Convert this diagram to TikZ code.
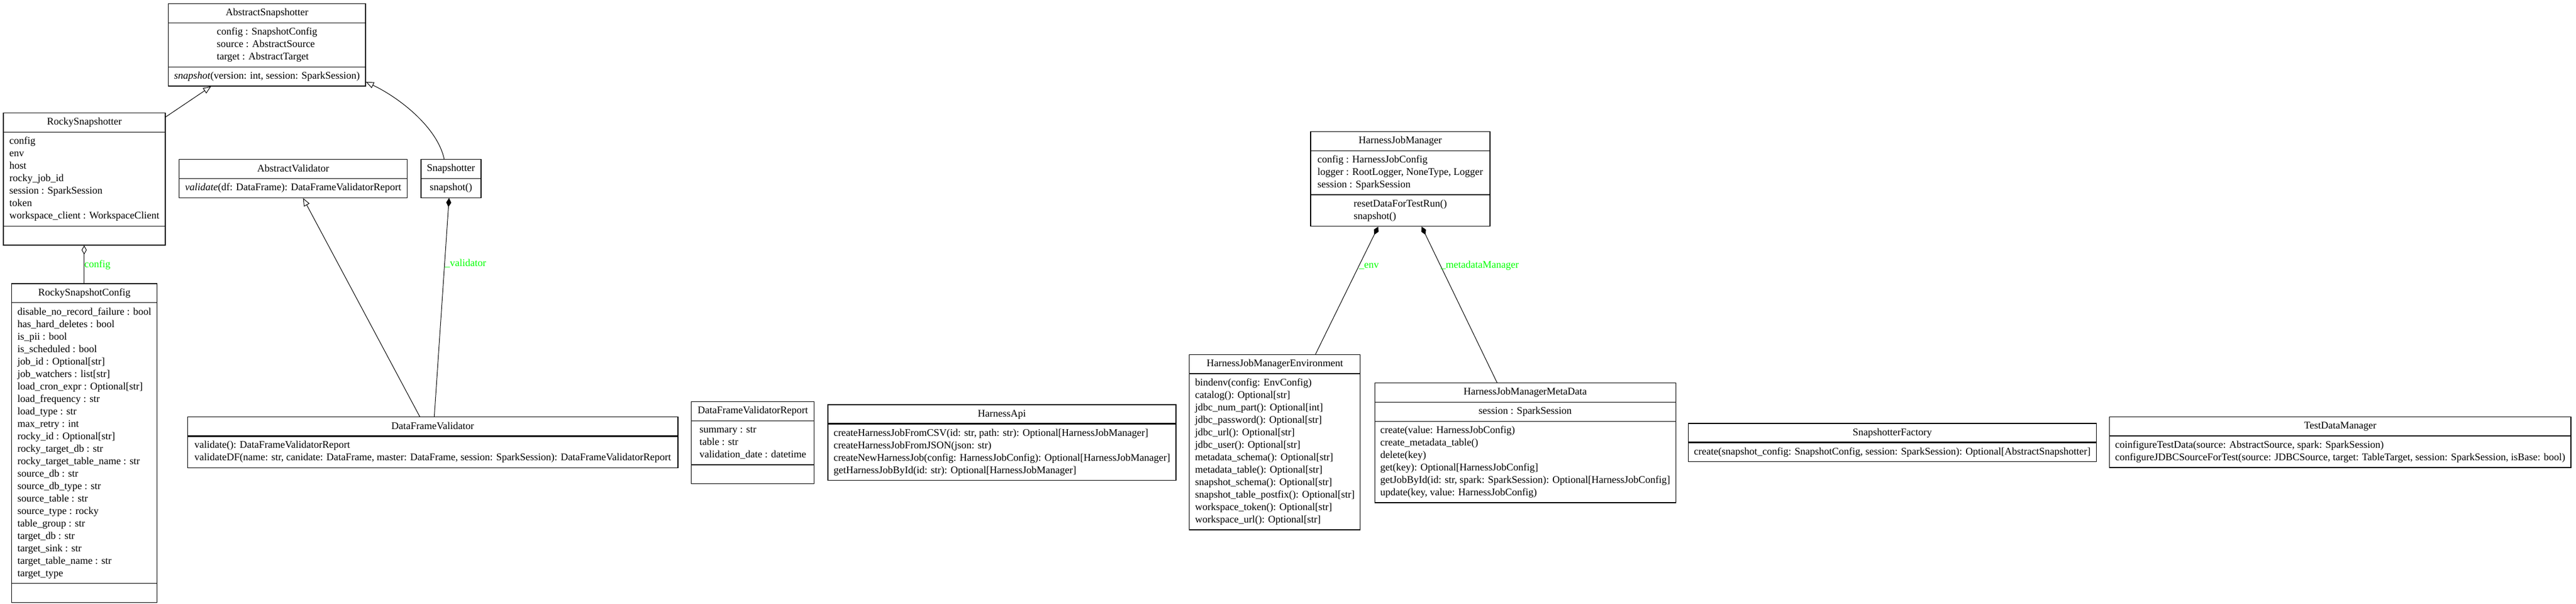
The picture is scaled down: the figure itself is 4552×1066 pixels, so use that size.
\documentclass[tikz,border=0pt]{standalone}
\usepackage{fontspec}
\setmainfont{Liberation Serif}
\usetikzlibrary{shapes.multipart,arrows.meta}

\tikzset{
  umlclass/.style={draw, line width=1.2pt, rectangle split, rectangle split parts=#1,
    anchor=north west, align=left, inner xsep=10pt, inner ysep=5.3pt},
  umlclass/.default=3,
  inherit/.style={line width=1pt, -{Triangle[open,length=14pt,width=11pt]}},
  compose/.style={line width=1pt, {Diamond[length=16pt,width=9pt]}-},
  aggregate/.style={line width=1pt, {Diamond[open,length=16pt,width=9pt]}-},
  rolelabel/.style={text=green, anchor=west, inner sep=0pt},
  nofields/.style={line width=2.6pt}
}

\begin{document}
\fontsize{18}{22}\selectfont
\begin{tikzpicture}[x=1pt,y=-1pt]
\useasboundingbox (0,0) rectangle (4552,1066);

% snapshotters
\node[umlclass, minimum width=348pt] (abssnap) at (297,6)
  {\strut AbstractSnapshotter
   \nodepart{two}\strut config : SnapshotConfig\\ source : AbstractSource\\ target : AbstractTarget\strut
   \nodepart{three}\strut\textit{snapshot}(version: int, session: SparkSession)};
\node[umlclass, minimum width=286pt] (rocky) at (5.4,199)
  {\strut RockySnapshotter
   \nodepart{two}\strut config\\ env\\ host\\ rocky\_job\_id\\ session : SparkSession\\ token\\ workspace\_client : WorkspaceClient\strut
   \nodepart{three}\strut};
\node[umlclass, minimum width=257pt] (rockycfg) at (20,500.3)
  {\strut RockySnapshotConfig
   \nodepart{two}\strut disable\_no\_record\_failure : bool\\ has\_hard\_deletes : bool\\ is\_pii : bool\\
   is\_scheduled : bool\\ job\_id : Optional[str]\\ job\_watchers : list[str]\\ load\_cron\_expr : Optional[str]\\
   load\_frequency : str\\ load\_type : str\\ max\_retry : int\\ rocky\_id : Optional[str]\\ rocky\_target\_db : str\\
   rocky\_target\_table\_name : str\\ source\_db : str\\ source\_db\_type : str\\ source\_table : str\\
   source\_type : rocky\\ table\_group : str\\ target\_db : str\\ target\_sink : str\\ target\_table\_name : str\\
   target\_type\strut
   \nodepart{three}\strut};
\node[umlclass=2, minimum width=106pt] (snap) at (743.3,281)
  {\strut Snapshotter \nodepart{two}\strut snapshot()};

% validators
\node[umlclass=2, minimum width=403pt] (absval) at (316,281.1)
  {\strut AbstractValidator
   \nodepart{two}\strut\textit{validate}(df: DataFrame): DataFrameValidatorReport};
\node[umlclass=2, minimum width=866.6pt] (dfval) at (330.8,736.1)
  {\strut DataFrameValidator
   \nodepart{two}\strut validate(): DataFrameValidatorReport\\
   validateDF(name: str, canidate: DataFrame, master: DataFrame, session: SparkSession): DataFrameValidatorReport\strut};
\node[umlclass, minimum width=217pt] (dfreport) at (1221.2,708.7)
  {\strut DataFrameValidatorReport
   \nodepart{two}\strut summary : str\\ table : str\\ validation\_date : datetime\strut
   \nodepart{three}\strut};

% harness
\node[umlclass=2, minimum width=615pt] (hapi) at (1462.3,714.3)
  {\strut HarnessApi
   \nodepart{two}\strut createHarnessJobFromCSV(id: str, path: str): Optional[HarnessJobManager]\\
   createHarnessJobFromJSON(json: str)\\
   createNewHarnessJob(config: HarnessJobConfig): Optional[HarnessJobManager]\\
   getHarnessJobById(id: str): Optional[HarnessJobManager]\strut};
\node[umlclass, minimum width=317pt] (hjm) at (2315.3,231.7)
  {\strut HarnessJobManager
   \nodepart{two}\strut config : HarnessJobConfig\\ logger : RootLogger, NoneType, Logger\\ session : SparkSession\strut
   \nodepart{three}\strut resetDataForTestRun()\\ snapshot()\strut};
\node[umlclass=2, minimum width=302pt] (hjmenv) at (2101.2,625.7)
  {\strut HarnessJobManagerEnvironment
   \nodepart{two}\strut bindenv(config: EnvConfig)\\ catalog(): Optional[str]\\ jdbc\_num\_part(): Optional[int]\\
   jdbc\_password(): Optional[str]\\ jdbc\_url(): Optional[str]\\ jdbc\_user(): Optional[str]\\
   metadata\_schema(): Optional[str]\\ metadata\_table(): Optional[str]\\ snapshot\_schema(): Optional[str]\\
   snapshot\_table\_postfix(): Optional[str]\\ workspace\_token(): Optional[str]\\ workspace\_url(): Optional[str]\strut};
\node[umlclass, minimum width=531pt] (hjmmeta) at (2428.5,676)
  {\strut HarnessJobManagerMetaData
   \nodepart{two}\strut session : SparkSession
   \nodepart{three}\strut create(value: HarnessJobConfig)\\ create\_metadata\_table()\\ delete(key)\\
   get(key): Optional[HarnessJobConfig]\\ getJobById(id: str, spark: SparkSession): Optional[HarnessJobConfig]\\
   update(key, value: HarnessJobConfig)\strut};

% misc
\node[umlclass=2, minimum width=720pt] (factory) at (2982.8,747.3)
  {\strut SnapshotterFactory
   \nodepart{two}\strut create(snapshot\_config: SnapshotConfig, session: SparkSession): Optional[AbstractSnapshotter]};
\node[umlclass=2, minimum width=808pt] (testdata) at (3727,735.7)
  {\strut TestDataManager
   \nodepart{two}\strut coinfigureTestData(source: AbstractSource, spark: SparkSession)\\
   configureJDBCSourceForTest(source: JDBCSource, target: TableTarget, session: SparkSession, isBase: bool)\strut};

% empty field compartments
\foreach \n in {dfval,hapi,hjmenv,factory,testdata}
  \draw[nofields] (\n.text split west) -- (\n.text split east);

% connectors
\draw[inherit] ([yshift=-7.7pt]rocky.north east) -- ([xshift=76pt]abssnap.south west);
\draw[inherit] ([xshift=-12pt]snap.north) .. controls +(-12,-56) and +(59,28) .. ([yshift=8pt]abssnap.south east);
\draw[inherit] ([xshift=411pt]dfval.north west) -- ([xshift=219.5pt]absval.south west);
\draw[compose] ([xshift=-3.4pt]snap.south) -- node[rolelabel, pos=0.3]{\_validator} ([xshift=436.6pt]dfval.north west);
\draw[aggregate] ([xshift=143.3pt]rocky.south west) -- node[rolelabel, pos=0.52]{config} ([xshift=128.7pt]rockycfg.north west);
\draw[compose] ([xshift=120.1pt]hjm.south west) -- node[rolelabel, pos=0.31]{\_env} ([xshift=223.4pt]hjmenv.north west);
\draw[compose] ([xshift=196.8pt]hjm.south west) -- node[rolelabel, pos=0.25]{\_metadataManager} ([xshift=216.9pt]hjmmeta.north west);
\end{tikzpicture}
\end{document}
